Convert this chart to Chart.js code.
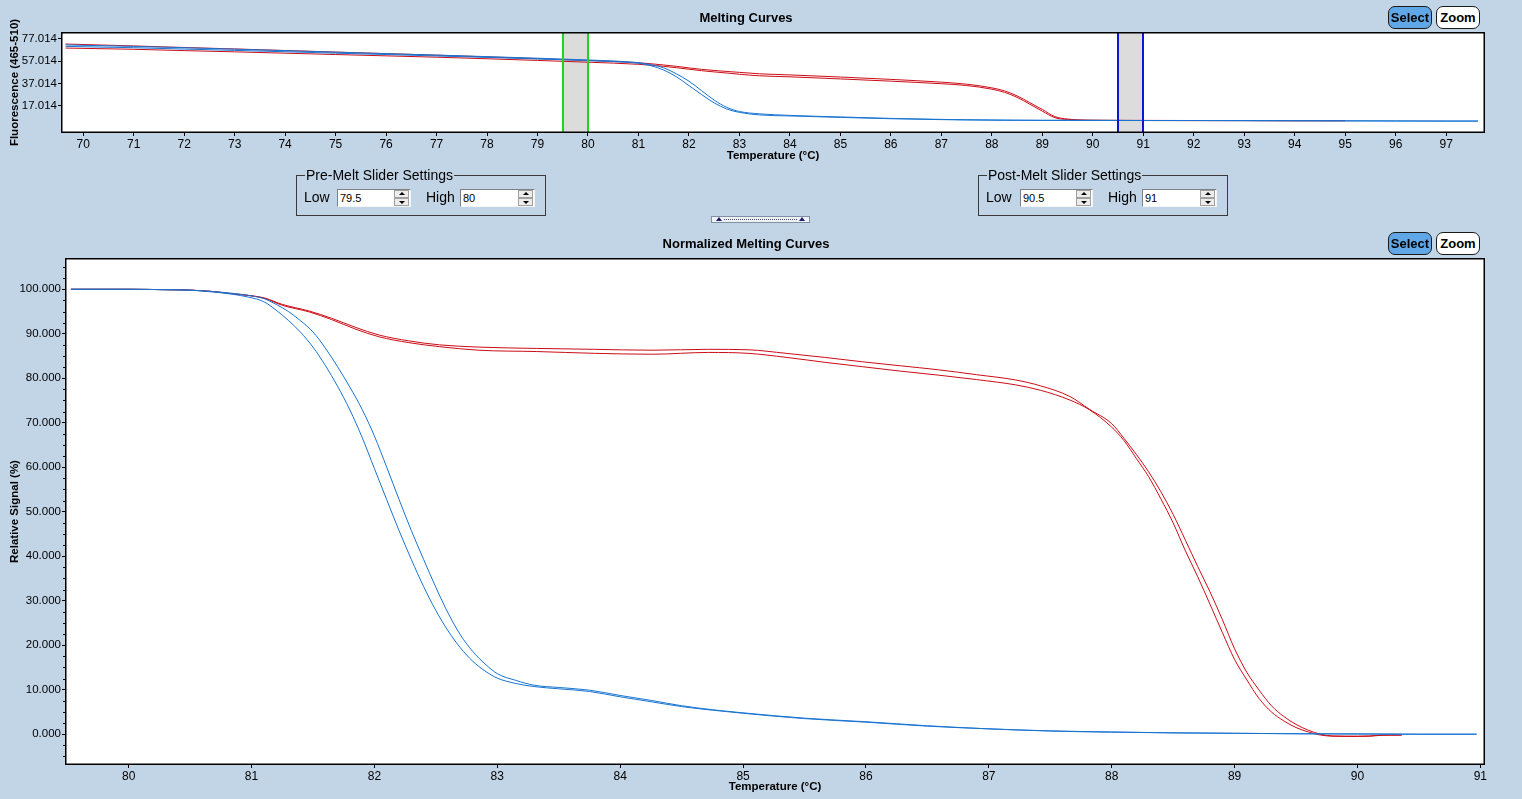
<!DOCTYPE html>
<html>
<head>
<meta charset="utf-8">
<script src="https://cdn.jsdelivr.net/npm/chart.js@4.4.1/dist/chart.umd.min.js"></script>
<style>
html,body{margin:0;padding:0;background:#c2d5e7;}
#root{position:relative;width:1522px;height:799px;overflow:hidden;background:#c2d5e7;font-family:'Liberation Sans',Arial,sans-serif;color:#000;}
canvas{position:absolute;left:0;}
#c1{top:0;}
#c2{top:226px;}
.btn{position:absolute;box-sizing:border-box;height:23px;width:44px;border:1px solid #1a1a1a;border-radius:7px;font:bold 13px 'Liberation Sans',Arial,sans-serif;line-height:21px;text-align:center;}
.sel{background:#5fa7e6;}
.zm{background:#fff;}
.grp{position:absolute;box-sizing:border-box;height:41px;width:250px;border:1px solid #3a3a3a;}
.legend{position:absolute;left:8px;top:-9px;background:#c2d5e7;padding:0 1px;font:14px 'Liberation Sans',Arial,sans-serif;line-height:16px;white-space:nowrap;}
.lbl{position:absolute;top:13px;font:14px 'Liberation Sans',Arial,sans-serif;line-height:16px;}
.inp{position:absolute;top:13px;box-sizing:border-box;height:18px;background:#fff;border-top:1px solid #808080;border-left:1px solid #808080;border-right:1px solid #f4f4f4;border-bottom:1px solid #f4f4f4;font:11px 'Liberation Sans',Arial,sans-serif;line-height:16px;padding-left:2px;color:#000;}
.spin{position:absolute;right:1px;top:0px;width:15px;height:16px;}
.spin div{position:absolute;left:0;width:15px;height:8px;box-sizing:border-box;background:#ececec;border:1px solid #a0a0a0;}
.up{top:0}.dn{top:8px}
.up:after,.dn:after{content:"";position:absolute;left:4px;border-left:3px solid transparent;border-right:3px solid transparent;}
.up:after{top:1px;border-bottom:3px solid #000;}
.dn:after{top:2px;border-top:3px solid #000;}
#split{position:absolute;left:711px;top:216px;width:99px;height:7px;box-sizing:border-box;border:1px solid #7f90a2;background:#eef2f7;}
#split .dots{position:absolute;left:12px;right:12px;top:2px;border-top:1px dotted #4a4a7a;}
#split .tl,#split .tr{position:absolute;top:0px;border-left:3px solid transparent;border-right:3px solid transparent;border-bottom:4px solid #1c1c6a;}
#split .tl{left:4px}#split .tr{right:4px}
</style>
</head>
<body>
<div id="root">
  <canvas id="c1" width="1522" height="168"></canvas>
  <canvas id="c2" width="1522" height="573"></canvas>

  <div class="btn sel" style="left:1388px;top:6px;">Select</div>
  <div class="btn zm" style="left:1436px;top:6px;">Zoom</div>
  <div class="btn sel" style="left:1388px;top:232px;">Select</div>
  <div class="btn zm" style="left:1436px;top:232px;">Zoom</div>

  <div class="grp" style="left:296px;top:175px;">
    <div class="legend">Pre-Melt Slider Settings</div>
    <div class="lbl" style="left:7px;">Low</div>
    <div class="inp" style="left:40px;width:74px;">79.5<div class="spin"><div class="up"></div><div class="dn"></div></div></div>
    <div class="lbl" style="left:129px;">High</div>
    <div class="inp" style="left:163px;width:75px;">80<div class="spin"><div class="up"></div><div class="dn"></div></div></div>
  </div>

  <div class="grp" style="left:978px;top:175px;">
    <div class="legend">Post-Melt Slider Settings</div>
    <div class="lbl" style="left:7px;">Low</div>
    <div class="inp" style="left:41px;width:73px;">90.5<div class="spin"><div class="up"></div><div class="dn"></div></div></div>
    <div class="lbl" style="left:129px;">High</div>
    <div class="inp" style="left:163px;width:75px;">91<div class="spin"><div class="up"></div><div class="dn"></div></div></div>
  </div>

  <div id="split"><div class="tl"></div><div class="dots"></div><div class="tr"></div></div>
</div>

<script>
// ---------------- DATA ----------------
// Top chart: raw melting curves (Fluorescence 465-510)
const rawT = [69.65, 71, 72, 73, 74, 75, 76, 77, 78, 79, 79.5, 80, 80.5, 81, 81.25, 81.5, 81.75, 82, 82.25, 82.5, 82.75, 83, 83.4, 84, 85, 86, 87, 87.5, 88, 88.25, 88.5, 88.75, 89, 89.25, 89.5, 90, 91, 92, 93, 94, 95, 96, 97, 97.63];
const rawRed1 = [72.3, 70.6, 69.2, 67.9, 66.5, 65.1, 63.7, 62.3, 60.8, 59.2, 58.4, 57.6, 56.7, 55.5, 54.6, 53.5, 52.3, 50.9, 49.6, 48.6, 47.7, 46.9, 45.6, 44.6, 42.7, 40.6, 38.1, 36.3, 33.0, 30.3, 25.8, 19.8, 13.6, 7.2, 5.0, 4.0, 3.8, 3.7, 3.7, 3.6, 3.6, null, null, null];
const rawRed2 = [68.7, 67.6, 66.4, 65.3, 64.1, 62.9, 61.7, 60.5, 59.1, 57.6, 56.8, 56.0, 55.2, 54.1, 53.3, 52.3, 51.1, 49.7, 48.4, 47.3, 46.3, 45.2, 43.8, 42.9, 41.0, 39.0, 36.7, 35.1, 31.8, 29.0, 24.5, 18.4, 12.1, 6.2, 4.6, 3.8, 3.7, 3.6, 3.6, 3.5, 3.5, null, null, null];
const rawBlue1 = [71.5, 70.2, 69.0, 67.7, 66.4, 65.0, 63.7, 62.4, 61.0, 59.6, 58.8, 58.0, 57.1, 55.6, 53.8, 51.0, 45.6, 39.0, 30.5, 22.0, 15.5, 11.8, 9.7, 8.3, 6.9, 5.6, 4.7, 4.4, 4.2, 4.1, 4.0, 4.0, 3.9, 3.9, 3.9, 3.8, 3.7, 3.7, 3.6, 3.5, 3.4, 3.3, 3.2, 3.2];
const rawBlue2 = [70.2, 69.0, 67.8, 66.6, 65.4, 64.1, 62.9, 61.6, 60.3, 58.9, 58.2, 57.4, 56.5, 55.0, 52.8, 49.0, 43.0, 35.0, 27.0, 19.5, 14.0, 11.0, 8.7, 7.8, 6.5, 5.3, 4.5, 4.2, 4.0, 3.9, 3.9, 3.8, 3.8, 3.8, 3.8, 3.8, 3.7, 3.7, 3.6, 3.5, 3.4, 3.3, 3.2, 3.2];
const preMelt = [79.5, 80];
const postMelt = [90.5, 91];
const topXTicks = [70, 71, 72, 73, 74, 75, 76, 77, 78, 79, 80, 81, 82, 83, 84, 85, 86, 87, 88, 89, 90, 91, 92, 93, 94, 95, 96, 97];
const topYTicks = [17.014, 37.014, 57.014, 77.014];

// Bottom chart: normalized melting curves (Relative Signal %)
const blueT = [79.53, 80.0, 80.3, 80.5, 80.68, 80.84, 80.98, 81.1, 81.2, 81.3, 81.4, 81.5, 81.6, 81.7, 81.8, 81.9, 82.0, 82.1, 82.2, 82.3, 82.4, 82.5, 82.6, 82.7, 82.8, 82.9, 83.0, 83.15, 83.3, 83.5, 83.75, 84.0, 84.25, 84.5, 84.75, 85.0, 85.5, 86.0, 86.5, 87.0, 87.5, 88.0, 88.5, 89.0, 89.5, 90.0, 90.5, 90.97];
const normBlue1 = [100, 100, 99.9, 99.8, 99.4, 98.9, 98.2, 97.2, 95.3, 93.0, 90.3, 87.0, 82.9, 78.2, 72.9, 66.7, 59.7, 52.7, 45.8, 39.3, 33.2, 27.8, 23.2, 19.4, 16.4, 14.2, 12.6, 11.4, 10.7, 10.2, 9.6, 8.4, 7.3, 6.2, 5.4, 4.7, 3.5, 2.7, 1.8, 1.2, 0.7, 0.45, 0.3, 0.2, 0.1, 0.05, 0.0, 0.0];
const normBlue2 = [100, 100, 99.9, 99.8, 99.5, 99.1, 98.6, 97.9, 96.6, 95.0, 92.9, 90.4, 86.8, 82.6, 78.0, 73.0, 67.0, 60.0, 52.8, 45.8, 39.3, 33.0, 27.2, 22.3, 18.6, 15.8, 13.6, 12.1, 11.0, 10.5, 9.9, 8.7, 7.6, 6.4, 5.5, 4.8, 3.6, 2.8, 1.9, 1.2, 0.75, 0.5, 0.3, 0.2, 0.1, 0.05, 0.0, 0.0];
const redT = [79.53, 80.0, 80.3, 80.5, 80.68, 80.84, 80.98, 81.11, 81.25, 81.47, 81.65, 81.85, 82.04, 82.28, 82.53, 82.85, 83.32, 83.79, 84.26, 84.72, 85.04, 85.35, 85.66, 85.97, 86.28, 86.59, 86.9, 87.22, 87.42, 87.66, 87.82, 88.0, 88.1, 88.2, 88.3, 88.4, 88.5, 88.6, 88.7, 88.8, 88.9, 89.0, 89.1, 89.2, 89.3, 89.4, 89.5, 89.6, 89.7, 89.8, 90.0, 90.1, 90.2, 90.36];
const normRed1 = [100, 100, 99.9, 99.8, 99.5, 99.0, 98.6, 98.0, 96.6, 95.1, 93.5, 91.4, 89.7, 88.4, 87.5, 87.0, 86.7, 86.5, 86.3, 86.5, 86.4, 85.6, 84.7, 83.7, 82.8, 81.9, 80.8, 79.6, 78.3, 75.9, 73.0, 69.8, 66.5, 62.9, 59.0, 54.5, 49.4, 43.6, 37.7, 32.0, 25.8, 19.2, 13.9, 9.9, 6.4, 4.0, 2.2, 0.9, 0.0, -0.4, -0.45, -0.4, -0.2, -0.2];
const normRed2 = [100, 100, 99.9, 99.8, 99.5, 99.0, 98.6, 97.9, 96.4, 94.9, 93.2, 91.0, 89.3, 88.0, 87.1, 86.3, 86.0, 85.6, 85.4, 85.8, 85.6, 84.7, 83.6, 82.6, 81.6, 80.7, 79.7, 78.5, 77.3, 75.1, 72.9, 69.0, 66.0, 62.0, 57.9, 52.9, 47.5, 41.2, 35.4, 29.2, 22.9, 16.8, 12.2, 8.0, 5.0, 3.0, 1.5, 0.5, -0.2, -0.45, -0.5, -0.45, -0.25, -0.2];
const botXTicks = [80, 81, 82, 83, 84, 85, 86, 87, 88, 89, 90, 91];
const botYTicks = [0, 10, 20, 30, 40, 50, 60, 70, 80, 90, 100];

// ---------------- STYLE ----------------
const RED = '#cc0d17';
const BLUE = '#1874d2';

function hasFont(f) {
  const c = document.createElement('canvas').getContext('2d');
  const t = '100.000 Temperature Wy';
  c.font = '40px monospace';
  const w0 = c.measureText(t).width;
  c.font = "40px '" + f + "', monospace";
  return Math.abs(c.measureText(t).width - w0) > 0.5;
}
let yTickFont = {family: "'Liberation Sans', Arial, sans-serif", size: 11.5};
let xTickFont = {family: "'Liberation Sans', Arial, sans-serif", size: 12};
for (const f of ['Liberation Sans Narrow', 'Arial Narrow']) {
  if (hasFont(f)) { yTickFont = {family: "'" + f + "'", size: 13.5}; xTickFont = yTickFont; break; }
}
const titleFont = {family: "'Liberation Sans', Arial, sans-serif", size: 13, weight: 'bold', lineHeight: 1.2};
const axisTitleFont = {family: "'Liberation Sans', Arial, sans-serif", size: 11.5, weight: 'bold', lineHeight: 1.2};

const framePlugin = {
  id: 'frame',
  beforeDraw(chart) {
    const {ctx, chartArea: a} = chart;
    ctx.save();
    ctx.fillStyle = '#ffffff';
    ctx.fillRect(a.left, a.top, a.right - a.left, a.bottom - a.top);
    ctx.restore();
  },
  afterDraw(chart) {
    const {ctx, chartArea: a} = chart;
    ctx.save();
    ctx.strokeStyle = '#000';
    ctx.lineWidth = 1.5;
    ctx.strokeRect(Math.round(a.left) - 0.25, Math.round(a.top) - 0.25, Math.round(a.right - a.left) + 0.5, Math.round(a.bottom - a.top) + 0.5);
    ctx.restore();
  }
};

const sliderPlugin = {
  id: 'sliders',
  beforeDatasetsDraw(chart) {
    const {ctx, chartArea: a, scales: {x}} = chart;
    ctx.save();
    ctx.fillStyle = '#dcdcdc';
    for (const r of [preMelt, postMelt]) {
      const p0 = x.getPixelForValue(r[0]), p1 = x.getPixelForValue(r[1]);
      ctx.fillRect(p0, a.top, p1 - p0, a.bottom - a.top);
    }
    ctx.restore();
  },
  afterDatasetsDraw(chart) {
    const {ctx, chartArea: a, scales: {x}} = chart;
    ctx.save();
    ctx.lineWidth = 2;
    const sets = [[preMelt, '#22d422'], [postMelt, '#0b16d6']];
    for (const [r, col] of sets) {
      ctx.strokeStyle = col;
      for (const v of r) {
        const p = Math.round(x.getPixelForValue(v));
        ctx.beginPath(); ctx.moveTo(p, a.top); ctx.lineTo(p, a.bottom); ctx.stroke();
      }
    }
    ctx.restore();
  }
};

const minorTickPlugin = {
  id: 'minorTicks',
  afterDraw(chart) {
    const y = chart.scales.y, a = chart.chartArea, ctx = chart.ctx;
    ctx.save();
    ctx.strokeStyle = '#000';
    ctx.lineWidth = 1;
    for (let v = -5; v <= 105; v += 2.5) {
      if (Math.abs(v % 10) < 1e-9) continue;
      if (v < y.min || v > y.max) continue;
      const p = Math.round(y.getPixelForValue(v)) + 0.5;
      ctx.beginPath(); ctx.moveTo(a.left - 3, p); ctx.lineTo(a.left, p); ctx.stroke();
    }
    ctx.restore();
  }
};

function series(T, vals, color) {
  return {
    data: T.map((t, i) => ({x: t, y: vals[i]})),
    borderColor: color,
    borderWidth: 1,
    pointRadius: 0,
    fill: false,
    spanGaps: false,
    cubicInterpolationMode: 'monotone'
  };
}

function makeOptions(cfg) {
  return {
    responsive: false,
    animation: false,
    events: [],
    layout: {padding: {left: 8, right: 38, top: 0, bottom: 0}},
    plugins: {
      legend: {display: false},
      tooltip: {enabled: false},
      title: {display: true, text: cfg.title, color: '#000', font: titleFont, padding: {top: 10.2, bottom: 7.2}}
    },
    scales: {
      x: {
        type: 'linear', min: cfg.xMin, max: cfg.xMax,
        afterBuildTicks: s => { s.ticks = cfg.xTicks.map(v => ({value: v})); },
        afterFit: s => { s.height = cfg.xHeight; },
        ticks: {font: xTickFont, color: '#000', padding: 1, maxRotation: 0, autoSkip: false, callback: v => String(v)},
        grid: {display: true, drawOnChartArea: false, drawTicks: true, tickLength: 4, color: '#000', lineWidth: 1},
        border: {display: false},
        title: {display: true, text: 'Temperature (°C)', color: '#000', font: axisTitleFont, padding: {top: 0, bottom: 5.1}}
      },
      y: {
        type: 'linear', min: cfg.yMin, max: cfg.yMax, position: 'left',
        afterBuildTicks: s => { s.ticks = cfg.yTicks.map(v => ({value: v})); },
        afterFit: s => { s.width = cfg.yWidth; },
        ticks: {font: yTickFont, color: '#000', padding: 1, autoSkip: false, callback: v => Number(v).toFixed(3)},
        grid: {display: true, drawOnChartArea: false, drawTicks: true, tickLength: 4, color: '#000', lineWidth: 1},
        border: {display: false},
        title: {display: true, text: cfg.yTitle, color: '#000', font: axisTitleFont, padding: {top: 0, bottom: 0}}
      }
    }
  };
}

new Chart(document.getElementById('c1'), {
  type: 'line',
  data: {datasets: [
    series(rawT, rawBlue1, BLUE),
    series(rawT, rawBlue2, BLUE),
    series(rawT, rawRed1, RED),
    series(rawT, rawRed2, RED)
  ]},
  options: makeOptions({title: 'Melting Curves', yTitle: 'Fluorescence (465-510)', xMin: 69.58, xMax: 97.75, yMin: -6.6, yMax: 82.2, xTicks: topXTicks, yTicks: topYTicks, xHeight: 36, yWidth: 54}),
  plugins: [framePlugin, sliderPlugin]
});

new Chart(document.getElementById('c2'), {
  type: 'line',
  data: {datasets: [
    series(blueT, normBlue1, BLUE),
    series(blueT, normBlue2, BLUE),
    series(redT, normRed1, RED),
    series(redT, normRed2, RED)
  ]},
  options: makeOptions({title: 'Normalized Melting Curves', yTitle: 'Relative Signal (%)', xMin: 79.49, xMax: 91.03, yMin: -6.7, yMax: 106.8, xTicks: botXTicks, yTicks: botYTicks, xHeight: 35, yWidth: 58}),
  plugins: [framePlugin, minorTickPlugin]
});
</script>
</body>
</html>
